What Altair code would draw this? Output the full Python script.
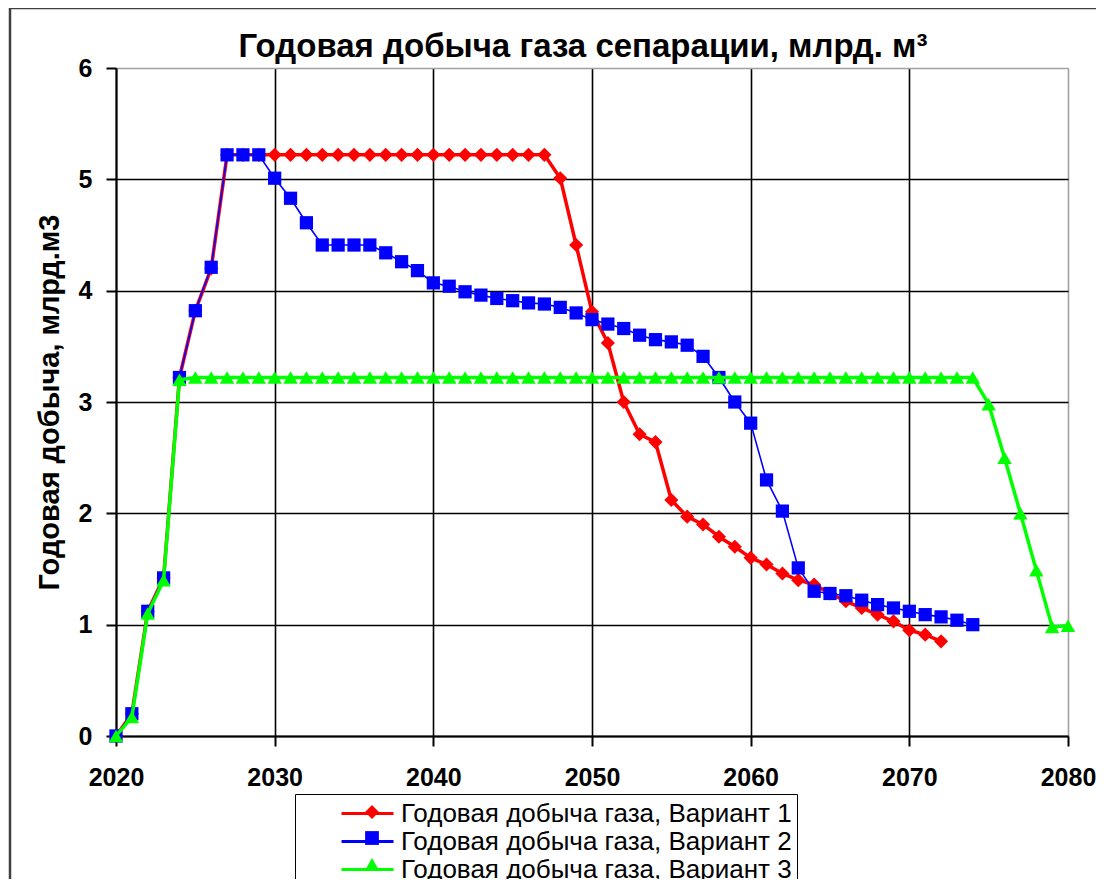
import altair as alt
import pandas as pd

# ---------------- data ----------------
series_names = [
    "Годовая добыча газа, Вариант 1",
    "Годовая добыча газа, Вариант 2",
    "Годовая добыча газа, Вариант 3",
]

years_v1 = list(range(2020, 2073))
values_v1 = [
    0.0, 0.2, 1.12, 1.42, 3.22, 3.82, 4.2, 5.22, 5.22, 5.22,
    5.22, 5.22, 5.22, 5.22, 5.22, 5.22, 5.22, 5.22, 5.22, 5.22,
    5.22, 5.22, 5.22, 5.22, 5.22, 5.22, 5.22, 5.22, 5.01, 4.41,
    3.81, 3.53, 3.0, 2.71, 2.64, 2.12, 1.97, 1.9, 1.79, 1.7,
    1.6, 1.54, 1.46, 1.4, 1.36, 1.28, 1.21, 1.15, 1.09, 1.03,
    0.95, 0.91, 0.85,
]

years_v2 = list(range(2020, 2075))
values_v2 = [
    0.0, 0.2, 1.12, 1.42, 3.22, 3.82, 4.21, 5.22, 5.22, 5.22,
    5.01, 4.83, 4.61, 4.41, 4.41, 4.41, 4.41, 4.34, 4.26, 4.18,
    4.07, 4.04, 3.99, 3.96, 3.93, 3.91, 3.89, 3.88, 3.85, 3.8,
    3.74, 3.7, 3.66, 3.6, 3.56, 3.54, 3.51, 3.41, 3.22, 3.0,
    2.81, 2.3, 2.02, 1.51, 1.3, 1.28, 1.26, 1.22, 1.18, 1.15,
    1.12, 1.09, 1.07, 1.04, 1.0,
]

years_v3 = list(range(2020, 2081))
values_v3 = [
    0.0, 0.17, 1.1, 1.4, 3.2, 3.22, 3.22, 3.22, 3.22, 3.22,
    3.22, 3.22, 3.22, 3.22, 3.22, 3.22, 3.22, 3.22, 3.22, 3.22,
    3.22, 3.22, 3.22, 3.22, 3.22, 3.22, 3.22, 3.22, 3.22, 3.22,
    3.22, 3.22, 3.22, 3.22, 3.22, 3.22, 3.22, 3.22, 3.22, 3.22,
    3.22, 3.22, 3.22, 3.22, 3.22, 3.22, 3.22, 3.22, 3.22, 3.22,
    3.22, 3.22, 3.22, 3.22, 3.22, 2.98, 2.5, 2.0, 1.49, 0.98,
    0.99,
]

x_ticks = [2020, 2030, 2040, 2050, 2060, 2070, 2080]
y_ticks = [0, 1, 2, 3, 4, 5, 6]

title_text = "Годовая добыча газа сепарации, млрд. м³"
y_title = "Годовая добыча, млрд.м3"

# ---------------- styles ----------------
colors = ["#ff0000", "#0000ff", "#00ff00"]
shapes = ["diamond", "square", "triangle-up"]
line_widths = [3.5, 1.6, 3.5]
point_sizes = [200, 175, 210]
FONT = "Liberation Sans"

rows = []
for name, ys, vs in zip(series_names, [years_v1, years_v2, years_v3],
                        [values_v1, values_v2, values_v3]):
    for y, v in zip(ys, vs):
        # series2 carries a marker key (distinct domain -> separate marker legend)
        rows.append({"year": y, "value": v, "series": name, "series2": name + " "})
df = pd.DataFrame(rows)
marker_domain = [n + " " for n in series_names]

x_enc = alt.X(
    "year:Q",
    scale=alt.Scale(domain=[2020, 2080], nice=False, zero=False),
    axis=alt.Axis(
        values=x_ticks, format="d", title=None,
        labelFont=FONT, labelFontSize=25, labelFontWeight="bold",
        labelColor="black", labelPadding=19, tickSize=10,
        tickColor="black", tickWidth=2, domainColor="black", domainWidth=2,
        gridColor=alt.condition("datum.value === 2080", alt.value("#a0a0a0"), alt.value("black")),
        gridWidth=1.6, labelFlush=False,
    ),
)
y_enc = alt.Y(
    "value:Q",
    scale=alt.Scale(domain=[0, 6], nice=False),
    axis=alt.Axis(
        values=y_ticks, title=y_title,
        titleFont=FONT, titleFontSize=29, titleFontWeight="bold",
        titleColor="black", titlePadding=14,
        labelFont=FONT, labelFontSize=25, labelFontWeight="bold",
        labelColor="black", labelPadding=14, tickSize=10,
        tickColor="black", tickWidth=2, domainColor="black", domainWidth=2,
        gridColor=alt.condition("datum.value === 6", alt.value("#a0a0a0"), alt.value("black")),
        gridWidth=1.6,
    ),
)

LEG_X, LEG_Y = 179, 726
LEG_FONT = 26
LEG_PAD = 5

stroke_enc = alt.Stroke(
    "series:N",
    scale=alt.Scale(domain=series_names, range=colors),
    legend=alt.Legend(
        orient="none", legendX=LEG_X, legendY=LEG_Y, title=None,
        symbolType="M-2,0L2,0", symbolSize=676, symbolStrokeWidth=3,
        labelFont=FONT, labelFontSize=LEG_FONT, labelColor="black",
        labelOffset=19, labelLimit=1000, rowPadding=0,
        strokeColor="black", padding=LEG_PAD, symbolOffset=53, zindex=1,
    ),
)
marker_legend = alt.Legend(
    orient="none", legendX=LEG_X, legendY=LEG_Y, title=None,
    symbolSize=190, symbolStrokeWidth=0,
    labelFont=FONT, labelFontSize=LEG_FONT, labelOpacity=0,
    labelExpr="' '",
    labelOffset=6, labelLimit=1000, rowPadding=0,
    padding=LEG_PAD, symbolOffset=59, zindex=2,
)
fill_enc = alt.Fill(
    "series2:N",
    scale=alt.Scale(domain=marker_domain, range=colors),
    legend=marker_legend,
)
shape_enc = alt.Shape(
    "series2:N",
    scale=alt.Scale(domain=marker_domain, range=shapes),
    legend=marker_legend,
)

base = alt.Chart(df)

layers = []
border = alt.Chart(alt.Data(values=[{"a": 1}])).mark_rect(
    fill=None, stroke="#404040", strokeWidth=2.5
).encode(
    x=alt.value(-106), x2=alt.value(1000), y=alt.value(-60), y2=alt.value(900)
)
layers.append(border)

title_mark = alt.Chart(alt.Data(values=[{"t": title_text}])).mark_text(
    font=FONT, fontSize=33, fontWeight="bold", color="black",
    align="center", baseline="alphabetic",
).encode(
    text="t:N", x=alt.value(467), y=alt.value(-11)
)
layers.append(title_mark)

for name, w, s in zip(series_names, line_widths, point_sizes):
    f = base.transform_filter(alt.datum.series == name)
    layers.append(
        f.mark_line(strokeJoin="round", strokeWidth=w).encode(
            x=x_enc, y=y_enc, stroke=stroke_enc, order="year:Q",
        )
    )
    layers.append(
        f.mark_point(filled=True, opacity=1, strokeWidth=0, size=s).encode(
            x=x_enc, y=y_enc, fill=fill_enc, shape=shape_enc,
        )
    )

chart = alt.layer(*layers).properties(
    width=952,
    height=668,
    padding={"left": 108, "top": 60, "right": 28, "bottom": 143},
    autosize=alt.AutoSizeParams(type="none"),
).configure_view(
    stroke="#a0a0a0", strokeWidth=2
).configure_legend(
    strokeWidth=2
).configure(
    background="white"
)

chart.save("out.html", embed_options={"renderer": "svg", "actions": False})
